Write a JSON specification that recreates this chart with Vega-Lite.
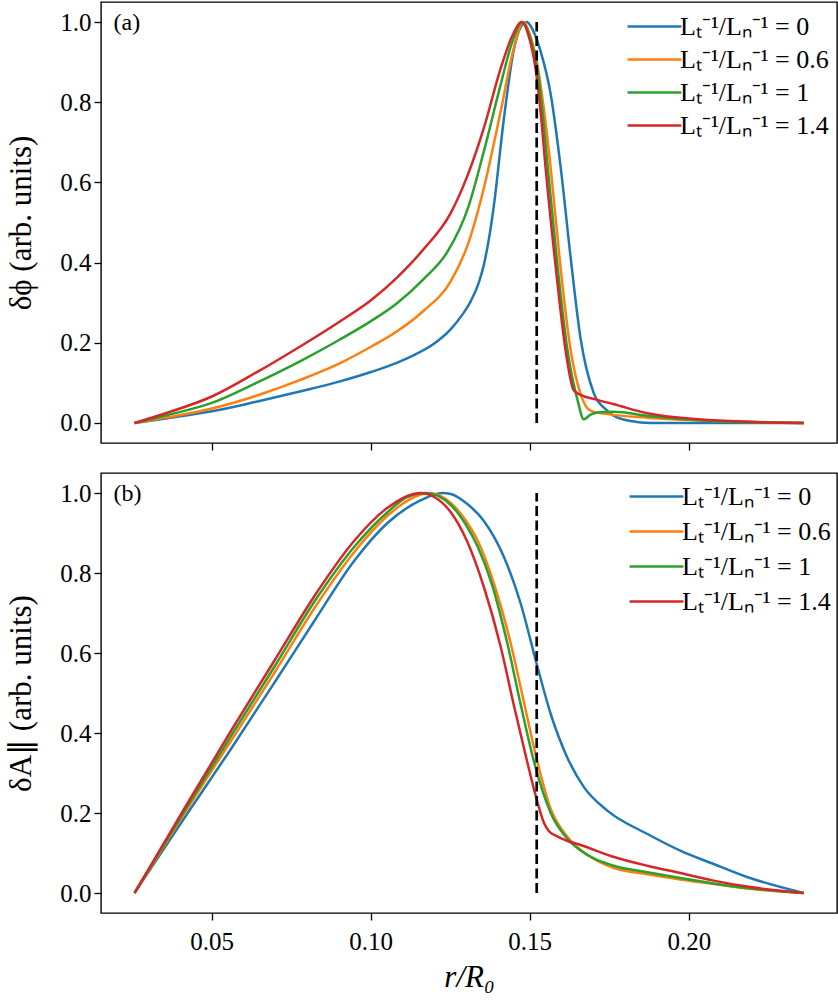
{
  "$schema": "https://vega.github.io/schema/vega-lite/v6.json",
  "background": "white",
  "padding": {"left": 5, "top": 1, "right": 2, "bottom": 5},
  "spacing": 20,
  "datasets": {
    "phi": [
      {"r":0.0258,"v":0,"s":"0"},{"r":0.0363,"v":0.012,"s":"0"},{"r":0.0501,"v":0.029,"s":"0"},{"r":0.0641,"v":0.053,"s":"0"},{"r":0.0781,"v":0.079,"s":"0"},{"r":0.0901,"v":0.103,"s":"0"},{"r":0.1001,"v":0.127,"s":"0"},{"r":0.1082,"v":0.15,"s":"0"},{"r":0.1136,"v":0.169,"s":"0"},{"r":0.12,"v":0.198,"s":"0"},{"r":0.1252,"v":0.234,"s":"0"},{"r":0.129,"v":0.272,"s":"0"},{"r":0.1315,"v":0.304,"s":"0"},{"r":0.134,"v":0.35,"s":"0"},{"r":0.1356,"v":0.395,"s":"0"},{"r":0.1372,"v":0.46,"s":"0"},{"r":0.1387,"v":0.54,"s":"0"},{"r":0.1419,"v":0.76,"s":"0"},{"r":0.145,"v":0.93,"s":"0"},{"r":0.147,"v":0.985,"s":"0"},{"r":0.1491,"v":1.0,"s":"0"},{"r":0.151,"v":0.98,"s":"0"},{"r":0.1535,"v":0.925,"s":"0"},{"r":0.1566,"v":0.82,"s":"0"},{"r":0.1597,"v":0.64,"s":"0"},{"r":0.1629,"v":0.41,"s":"0"},{"r":0.166,"v":0.21,"s":"0"},{"r":0.1701,"v":0.075,"s":"0"},{"r":0.174,"v":0.033,"s":"0"},{"r":0.1764,"v":0.018,"s":"0"},{"r":0.1817,"v":0.005,"s":"0"},{"r":0.188,"v":0.0,"s":"0"},{"r":0.2,"v":0.0,"s":"0"},{"r":0.22,"v":0.0,"s":"0"},{"r":0.2361,"v":0.0,"s":"0"},
      {"r":0.0258,"v":0,"s":"0.6"},{"r":0.0363,"v":0.014,"s":"0.6"},{"r":0.0501,"v":0.036,"s":"0.6"},{"r":0.0641,"v":0.068,"s":"0.6"},{"r":0.0781,"v":0.108,"s":"0.6"},{"r":0.0901,"v":0.148,"s":"0.6"},{"r":0.1001,"v":0.19,"s":"0.6"},{"r":0.1082,"v":0.228,"s":"0.6"},{"r":0.1164,"v":0.278,"s":"0.6"},{"r":0.1252,"v":0.354,"s":"0.6"},{"r":0.1306,"v":0.446,"s":"0.6"},{"r":0.1356,"v":0.586,"s":"0.6"},{"r":0.1409,"v":0.778,"s":"0.6"},{"r":0.145,"v":0.935,"s":"0.6"},{"r":0.148,"v":1.0,"s":"0.6"},{"r":0.15,"v":0.97,"s":"0.6"},{"r":0.1525,"v":0.89,"s":"0.6"},{"r":0.1545,"v":0.78,"s":"0.6"},{"r":0.1566,"v":0.636,"s":"0.6"},{"r":0.1597,"v":0.387,"s":"0.6"},{"r":0.1629,"v":0.18,"s":"0.6"},{"r":0.166,"v":0.072,"s":"0.6"},{"r":0.1692,"v":0.03,"s":"0.6"},{"r":0.1744,"v":0.022,"s":"0.6"},{"r":0.187,"v":0.013,"s":"0.6"},{"r":0.2078,"v":0.005,"s":"0.6"},{"r":0.2361,"v":0.0,"s":"0.6"},
      {"r":0.0258,"v":0,"s":"1"},{"r":0.0363,"v":0.02,"s":"1"},{"r":0.0501,"v":0.05,"s":"1"},{"r":0.0641,"v":0.1,"s":"1"},{"r":0.0781,"v":0.155,"s":"1"},{"r":0.0901,"v":0.207,"s":"1"},{"r":0.1001,"v":0.254,"s":"1"},{"r":0.1082,"v":0.298,"s":"1"},{"r":0.1164,"v":0.357,"s":"1"},{"r":0.1243,"v":0.429,"s":"1"},{"r":0.1306,"v":0.536,"s":"1"},{"r":0.1356,"v":0.678,"s":"1"},{"r":0.1409,"v":0.845,"s":"1"},{"r":0.1445,"v":0.95,"s":"1"},{"r":0.1477,"v":1.0,"s":"1"},{"r":0.15,"v":0.965,"s":"1"},{"r":0.1525,"v":0.88,"s":"1"},{"r":0.1541,"v":0.77,"s":"1"},{"r":0.1557,"v":0.636,"s":"1"},{"r":0.1588,"v":0.387,"s":"1"},{"r":0.1619,"v":0.18,"s":"1"},{"r":0.1651,"v":0.055,"s":"1"},{"r":0.167,"v":0.009,"s":"1"},{"r":0.169,"v":0.02,"s":"1"},{"r":0.1714,"v":0.026,"s":"1"},{"r":0.1765,"v":0.028,"s":"1"},{"r":0.187,"v":0.0175,"s":"1"},{"r":0.2078,"v":0.005,"s":"1"},{"r":0.2361,"v":0.0,"s":"1"},
      {"r":0.0258,"v":0,"s":"1.4"},{"r":0.0363,"v":0.026,"s":"1.4"},{"r":0.0501,"v":0.066,"s":"1.4"},{"r":0.0641,"v":0.126,"s":"1.4"},{"r":0.0781,"v":0.192,"s":"1.4"},{"r":0.0901,"v":0.252,"s":"1.4"},{"r":0.1001,"v":0.306,"s":"1.4"},{"r":0.1082,"v":0.362,"s":"1.4"},{"r":0.1164,"v":0.431,"s":"1.4"},{"r":0.1252,"v":0.524,"s":"1.4"},{"r":0.1306,"v":0.62,"s":"1.4"},{"r":0.1356,"v":0.736,"s":"1.4"},{"r":0.1409,"v":0.885,"s":"1.4"},{"r":0.1445,"v":0.965,"s":"1.4"},{"r":0.1475,"v":1.0,"s":"1.4"},{"r":0.1495,"v":0.97,"s":"1.4"},{"r":0.1519,"v":0.88,"s":"1.4"},{"r":0.1535,"v":0.77,"s":"1.4"},{"r":0.155,"v":0.636,"s":"1.4"},{"r":0.1582,"v":0.387,"s":"1.4"},{"r":0.1613,"v":0.18,"s":"1.4"},{"r":0.1638,"v":0.082,"s":"1.4"},{"r":0.166,"v":0.07,"s":"1.4"},{"r":0.1701,"v":0.06,"s":"1.4"},{"r":0.1765,"v":0.0466,"s":"1.4"},{"r":0.187,"v":0.024,"s":"1.4"},{"r":0.2078,"v":0.0067,"s":"1.4"},{"r":0.2361,"v":0.0,"s":"1.4"}
    ],
    "apar": [
      {"r":0.0258,"v":0,"s":"0"},{"r":0.0425,"v":0.2,"s":"0"},{"r":0.0561,"v":0.36,"s":"0"},{"r":0.0697,"v":0.525,"s":"0"},{"r":0.0823,"v":0.68,"s":"0"},{"r":0.0948,"v":0.83,"s":"0"},{"r":0.1053,"v":0.925,"s":"0"},{"r":0.1158,"v":0.982,"s":"0"},{"r":0.1225,"v":1.0,"s":"0"},{"r":0.1252,"v":0.9975,"s":"0"},{"r":0.13,"v":0.975,"s":"0"},{"r":0.1356,"v":0.93,"s":"0"},{"r":0.1419,"v":0.84,"s":"0"},{"r":0.1472,"v":0.7225,"s":"0"},{"r":0.1522,"v":0.5725,"s":"0"},{"r":0.1566,"v":0.4475,"s":"0"},{"r":0.1618,"v":0.339,"s":"0"},{"r":0.1671,"v":0.264,"s":"0"},{"r":0.1744,"v":0.206,"s":"0"},{"r":0.187,"v":0.1475,"s":"0"},{"r":0.1973,"v":0.106,"s":"0"},{"r":0.2078,"v":0.0725,"s":"0"},{"r":0.2183,"v":0.04,"s":"0"},{"r":0.2361,"v":0.0,"s":"0"},
      {"r":0.0258,"v":0,"s":"0.6"},{"r":0.0425,"v":0.212,"s":"0.6"},{"r":0.0561,"v":0.38,"s":"0.6"},{"r":0.0697,"v":0.55,"s":"0.6"},{"r":0.0823,"v":0.712,"s":"0.6"},{"r":0.0948,"v":0.852,"s":"0.6"},{"r":0.1053,"v":0.943,"s":"0.6"},{"r":0.112,"v":0.983,"s":"0.6"},{"r":0.1183,"v":1.0,"s":"0.6"},{"r":0.1252,"v":0.975,"s":"0.6"},{"r":0.13,"v":0.93,"s":"0.6"},{"r":0.1337,"v":0.88,"s":"0.6"},{"r":0.1387,"v":0.775,"s":"0.6"},{"r":0.144,"v":0.625,"s":"0.6"},{"r":0.1481,"v":0.48,"s":"0.6"},{"r":0.1522,"v":0.335,"s":"0.6"},{"r":0.1566,"v":0.21,"s":"0.6"},{"r":0.1619,"v":0.14,"s":"0.6"},{"r":0.1692,"v":0.09,"s":"0.6"},{"r":0.1765,"v":0.0625,"s":"0.6"},{"r":0.187,"v":0.047,"s":"0.6"},{"r":0.1973,"v":0.034,"s":"0.6"},{"r":0.2078,"v":0.0225,"s":"0.6"},{"r":0.2183,"v":0.011,"s":"0.6"},{"r":0.2361,"v":0.0,"s":"0.6"},
      {"r":0.0258,"v":0,"s":"1"},{"r":0.0425,"v":0.218,"s":"1"},{"r":0.0561,"v":0.392,"s":"1"},{"r":0.0697,"v":0.565,"s":"1"},{"r":0.0823,"v":0.728,"s":"1"},{"r":0.0948,"v":0.865,"s":"1"},{"r":0.1053,"v":0.952,"s":"1"},{"r":0.1115,"v":0.99,"s":"1"},{"r":0.1174,"v":1.0,"s":"1"},{"r":0.1252,"v":0.97,"s":"1"},{"r":0.13,"v":0.92,"s":"1"},{"r":0.1337,"v":0.865,"s":"1"},{"r":0.138,"v":0.775,"s":"1"},{"r":0.1431,"v":0.62,"s":"1"},{"r":0.1472,"v":0.47,"s":"1"},{"r":0.1513,"v":0.33,"s":"1"},{"r":0.1566,"v":0.2,"s":"1"},{"r":0.1619,"v":0.135,"s":"1"},{"r":0.166,"v":0.106,"s":"1"},{"r":0.1765,"v":0.068,"s":"1"},{"r":0.187,"v":0.052,"s":"1"},{"r":0.1973,"v":0.0375,"s":"1"},{"r":0.2078,"v":0.024,"s":"1"},{"r":0.2183,"v":0.0125,"s":"1"},{"r":0.2361,"v":0.0,"s":"1"},
      {"r":0.0258,"v":0,"s":"1.4"},{"r":0.0425,"v":0.225,"s":"1.4"},{"r":0.0561,"v":0.405,"s":"1.4"},{"r":0.0697,"v":0.58,"s":"1.4"},{"r":0.0823,"v":0.742,"s":"1.4"},{"r":0.0948,"v":0.88,"s":"1.4"},{"r":0.1053,"v":0.963,"s":"1.4"},{"r":0.1137,"v":0.998,"s":"1.4"},{"r":0.1158,"v":1.0,"s":"1.4"},{"r":0.12,"v":0.99,"s":"1.4"},{"r":0.1252,"v":0.952,"s":"1.4"},{"r":0.13,"v":0.885,"s":"1.4"},{"r":0.1356,"v":0.765,"s":"1.4"},{"r":0.1409,"v":0.615,"s":"1.4"},{"r":0.145,"v":0.47,"s":"1.4"},{"r":0.149,"v":0.335,"s":"1.4"},{"r":0.1525,"v":0.225,"s":"1.4"},{"r":0.1545,"v":0.175,"s":"1.4"},{"r":0.156,"v":0.155,"s":"1.4"},{"r":0.1585,"v":0.142,"s":"1.4"},{"r":0.1619,"v":0.13,"s":"1.4"},{"r":0.166,"v":0.12,"s":"1.4"},{"r":0.1765,"v":0.09,"s":"1.4"},{"r":0.187,"v":0.068,"s":"1.4"},{"r":0.1973,"v":0.05,"s":"1.4"},{"r":0.2078,"v":0.031,"s":"1.4"},{"r":0.2183,"v":0.016,"s":"1.4"},{"r":0.2361,"v":0.0,"s":"1.4"}
    ]
  },
  "config": {
    "view": {"stroke": "black", "strokeWidth": 1.4},
    "axis": {"domain": false, "grid": false, "tickColor": "black", "tickSize": 7, "tickWidth": 1.3, "labelFont": "Liberation Serif", "labelFontSize": 25, "labelColor": "black", "labelPadding": 3, "titleFont": "Liberation Serif", "titleFontSize": 31, "titleFontWeight": "normal", "titleColor": "black"},
    "legend": {"orient": "top-right", "offset": 8, "padding": 0, "labelFont": "Liberation Serif", "labelFontSize": 26, "labelColor": "black", "symbolType": "stroke", "symbolStrokeWidth": 2.5, "symbolSize": 2900, "rowPadding": 0, "labelOffset": -3}
  },
  "vconcat": [
    {
      "width": 736, "height": 441,
      "layer": [
        {
          "data": {"name": "phi"},
          "mark": {"type": "line", "interpolate": "monotone", "strokeWidth": 2.5},
          "encoding": {
            "x": {"field": "r", "type": "quantitative", "scale": {"domain": [0.01526, 0.24658], "nice": false, "zero": false}, "axis": {"values": [0.05, 0.1, 0.15, 0.2], "labels": false, "title": null}},
            "y": {"field": "v", "type": "quantitative", "scale": {"domain": [-0.05, 1.05], "nice": false, "zero": false}, "axis": {"values": [0, 0.2, 0.4, 0.6, 0.8, 1.0], "format": ".1f", "title": "δϕ (arb. units)", "titlePadding": 22}},
            "color": {"field": "s", "type": "nominal", "scale": {"domain": ["0", "0.6", "1", "1.4"], "range": ["#1f77b4", "#ff7f0e", "#2ca02c", "#d62728"]}, "legend": {"title": null, "clipHeight": 33, "labelExpr": "'Lₜ⁻¹/Lₙ⁻¹ = ' + datum.label"}}
          }
        },
        {
          "data": {"values": [{"r": 0.1522}]},
          "mark": {"type": "rule", "strokeDash": [10, 4.5], "strokeWidth": 2.7, "color": "black"},
          "encoding": {"x": {"field": "r", "type": "quantitative"}, "y": {"datum": 0}, "y2": {"datum": 1}}
        },
        {
          "data": {"values": [{"t": "(a)"}]},
          "mark": {"type": "text", "align": "left", "baseline": "middle", "font": "Liberation Serif", "fontSize": 24, "color": "black"},
          "encoding": {"x": {"datum": 0.0192}, "y": {"datum": 0.9975}, "text": {"field": "t"}}
        }
      ]
    },
    {
      "width": 736, "height": 440,
      "layer": [
        {
          "data": {"name": "apar"},
          "mark": {"type": "line", "interpolate": "monotone", "strokeWidth": 2.5},
          "encoding": {
            "x": {"field": "r", "type": "quantitative", "scale": {"domain": [0.01526, 0.24658], "nice": false, "zero": false}, "axis": {"values": [0.05, 0.1, 0.15, 0.2], "format": ".2f", "title": "r/R₀", "titleFontStyle": "italic", "labelPadding": 9, "titlePadding": 8}},
            "y": {"field": "v", "type": "quantitative", "scale": {"domain": [-0.05, 1.05], "nice": false, "zero": false}, "axis": {"values": [0, 0.2, 0.4, 0.6, 0.8, 1.0], "format": ".1f", "title": "δA∥ (arb. units)", "titlePadding": 22}},
            "color": {"field": "s", "type": "nominal", "scale": {"domain": ["0", "0.6", "1", "1.4"], "range": ["#1f77b4", "#ff7f0e", "#2ca02c", "#d62728"]}, "legend": {"title": null, "clipHeight": 35, "offset": 6, "labelExpr": "'Lₜ⁻¹/Lₙ⁻¹ = ' + datum.label"}}
          }
        },
        {
          "data": {"values": [{"r": 0.1522}]},
          "mark": {"type": "rule", "strokeDash": [10, 4.5], "strokeWidth": 2.7, "color": "black"},
          "encoding": {"x": {"field": "r", "type": "quantitative"}, "y": {"datum": 0}, "y2": {"datum": 1}}
        },
        {
          "data": {"values": [{"t": "(b)"}]},
          "mark": {"type": "text", "align": "left", "baseline": "middle", "font": "Liberation Serif", "fontSize": 24, "color": "black"},
          "encoding": {"x": {"datum": 0.0192}, "y": {"datum": 0.9975}, "text": {"field": "t"}}
        }
      ]
    }
  ],
  "resolve": {"legend": {"color": "independent"}}
}
